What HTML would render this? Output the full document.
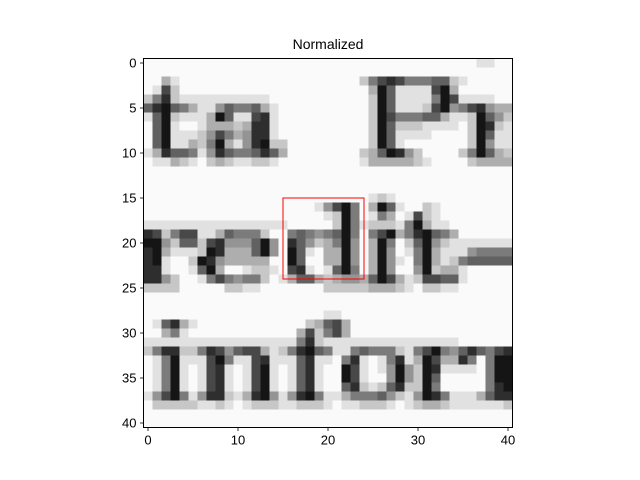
<!DOCTYPE html>
<html><head><meta charset="utf-8"><style>
html,body{margin:0;padding:0;background:#fff;}
svg{display:block;font-family:"Liberation Sans","DejaVu Sans",sans-serif;}
</style></head><body>
<svg id="chart" width="640" height="480" viewBox="0 0 640 480">
<text x="328" y="49" text-anchor="middle" font-size="14">Normalized</text>
<g id="cells"></g>
<g id="axes"></g>
</svg>
<script>
// Heatmap rows: each digit is the darkness of one cell (0 = white, 9 = black)
const rows = [
"00000000000000000000000000000000000001100",
"00000000000000000000000000000000000000000",
"00310000000000000000000025787555662100000",
"01720000000000000000000003961111793000000",
"25821111111111000000000002961111597111100",
"68965311465563100000000002961112794578433",
"16921113961178100000000002975556631129642",
"06910013332388100000000002962221111029821",
"06911124753488100000000002961111000029611",
"06911325931489220000000002961000000029411",
"13866514865568630000000023698420000259632",
"01132102321122100000000013333321000023333",
"00000000000000000000000000000000000000000",
"00000000000000000000000000000000000000000",
"00000000000000000000000000000000000000000",
"00000000000000000000000001210000000000000",
"00000000000000000001479503961002100000000",
"00000000000000000000129501530172100000000",
"11111111111111110000029512221593110000000",
"87257711365552005654569505793589653000000",
"99426627844469408642359403950269421111111",
"89311129833369409610339403940159311145555",
"89100298433333009600339403941059312566666",
"88100169300122107810169503940049233100000",
"88420015754552013663234436973127766100000",
"22220000022110000000222223332102211000000",
"00000000000000000000000000000000000000000",
"00000000000000000000000000000000000000000",
"00000000000000000000110000000000000000000",
"01683100000000000023673000000000000000000",
"00351000000000000372573000000000000000000",
"11111111111111111582111111111111111000000",
"25882258746773125896511565552157954686578",
"01591117951178111681105810158139733850599",
"01591017810179101681009710149429811110599",
"01591017810179101681009710049429600000599",
"01591017810179101681006821268229500000589",
"14795148821389414895113555642149851113688",
"02222211210122211222101122210123321111112",
"00000000000000000000000000000000000000000",
"00000000000000000000000000000000000000000"
];
const xTicks = [0, 10, 20, 30, 40];
const yTicks = [0, 5, 10, 15, 20, 25, 30, 35, 40];
const box = [15, 15, 24, 24]; // x0, y0, x1, y1 in data coords

const NS = "http://www.w3.org/2000/svg";
const L = 143.5, T = 58.5, C = 9;
function px(c){ return L + (c + 0.5) * C; }
function py(r){ return T + (r + 0.5) * C; }
function mk(tag, attrs, parent){
  const e = document.createElementNS(NS, tag);
  for (const k in attrs) e.setAttribute(k, attrs[k]);
  parent.appendChild(e); return e;
}
const cells = document.getElementById('cells');
rows.forEach((row, r) => {
  for (let c = 0; c < row.length; c++) {
    const d = +row[c];
    const g = Math.round(250 - d * 25.5);
    const rect = mk('rect', {x: px(c) - C/2, y: py(r) - C/2, width: C + 0.3, height: C + 0.3,
      fill: `rgb(${g},${g},${g})`, 'shape-rendering': 'crispEdges'}, cells);
    
    
  }
});
const axes = document.getElementById('axes');
const N = rows.length;
const frame = mk('rect', {x: L, y: T, width: N * C, height: N * C, fill: 'none', stroke: '#000', 'stroke-width': 1}, axes);


const rb = mk('rect', {x: px(box[0]), y: py(box[1]), width: px(box[2]) - px(box[0]), height: py(box[3]) - py(box[1]),
  fill: 'none', stroke: '#ff0000', 'stroke-width': 1}, axes);


xTicks.forEach(v => {
  const x = px(v), yb = T + N * C;
  const tk = mk('line', {x1: x, x2: x, y1: yb, y2: yb + 3.5, stroke: '#000', 'stroke-width': 0.8}, axes);
  
  
  const t = mk('text', {x: x, y: yb + 17, 'text-anchor': 'middle', 'font-size': 13}, axes);
  t.textContent = v;
  
  
});
yTicks.forEach(v => {
  const y = py(v);
  const tk = mk('line', {x1: L - 3.5, x2: L, y1: y, y2: y, stroke: '#000', 'stroke-width': 0.8}, axes);
  
  
  const t = mk('text', {x: L - 7, y: y + 4.5, 'text-anchor': 'end', 'font-size': 13}, axes);
  t.textContent = v;
  
  
});
</script>
</body></html>
